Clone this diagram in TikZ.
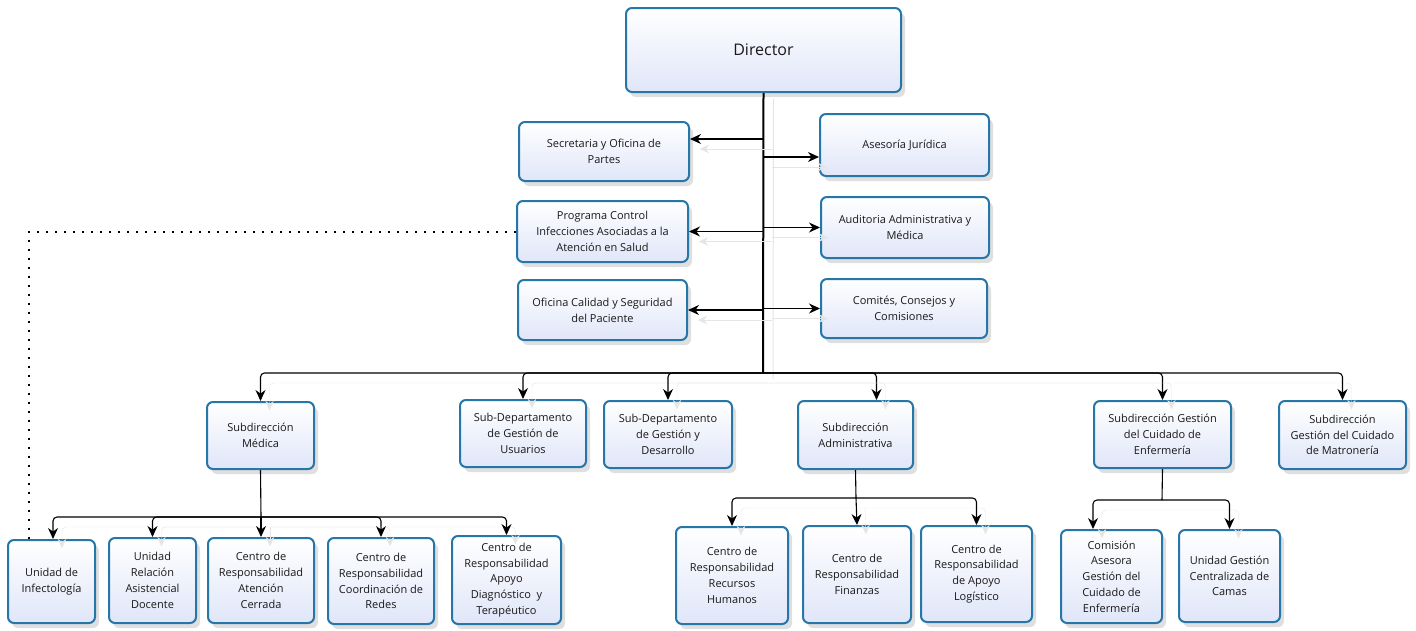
\documentclass[tikz,border=0pt]{standalone}
\usepackage{fontspec}
\setmainfont{Open Sans}
\usepackage{tikz}
\usetikzlibrary{arrows.meta, shadows, positioning, calc}
\definecolor{boxblue}{RGB}{38,118,168}
\definecolor{boxfill}{RGB}{224,230,249}

\tikzset{
	orgbox/.style={draw=boxblue, line width=2pt, rounded corners=6pt, top color=white, bottom color=boxfill,
		align=center, text=black!90, inner sep=2pt, font=\fontsize{11}{15.8}\selectfont,
		drop shadow={opacity=.25, shadow xshift=4pt, shadow yshift=-5pt}},
	conn/.style={line width=1.1pt, rounded corners=4pt, -{Stealth[length=11pt,width=10pt]},
		preaction={draw=black!10, transform canvas={shift={(9pt,-10pt)}}}},
	trunk/.style={line width=2pt, preaction={draw=black!10, line width=1pt, transform canvas={shift={(10pt,-6pt)}}}},
	dots/.style={line width=2pt, dash pattern=on 2pt off 7pt}
}

\begin{document}
\begin{tikzpicture}[x=1pt, y=-1pt]
		\useasboundingbox (0,0) rectangle (1416,630);

		% direccion
		\node[orgbox, minimum width=275pt, minimum height=84pt, font=\fontsize{16}{19}\selectfont] (dir) at (763.5,50) {Director};

		\node[orgbox, minimum width=170pt, minimum height=59pt] (secr) at (604,151.5) {Secretaria y Oficina de\\Partes};
		\node[orgbox, minimum width=169pt, minimum height=62pt] (ases) at (904.5,145) {Asesoría Jurídica};
		\node[orgbox, minimum width=171pt, minimum height=61pt] (prog) at (602.5,231.5) {Programa Control\\Infecciones Asociadas a la\\Atención en Salud};
		\node[orgbox, minimum width=168pt, minimum height=61pt] (audi) at (905,227.5) {Auditoria Administrativa y\\Médica};
		\node[orgbox, minimum width=169pt, minimum height=60pt] (ofic) at (602.5,310) {Oficina Calidad y Seguridad\\del Paciente};
		\node[orgbox, minimum width=166pt, minimum height=59pt] (comi) at (904,308.5) {Comités, Consejos y\\Comisiones};

		% subdirecciones
		\node[orgbox, minimum width=107pt, minimum height=67pt] (med) at (260.5,435.5) {Subdirección\\Médica};
		\node[orgbox, minimum width=126pt, minimum height=67pt] (usu) at (523,433.5) {Sub-Departamento\\de Gestión de\\Usuarios};
		\node[orgbox, minimum width=128pt, minimum height=67pt] (desa) at (668,434.5) {Sub-Departamento\\de Gestión y\\Desarrollo};
		\node[orgbox, minimum width=115pt, minimum height=68pt] (adm) at (855.5,435) {Subdirección\\Administrativa};
		\node[orgbox, minimum width=137pt, minimum height=67pt] (enf) at (1162.5,434.5) {Subdirección Gestión\\del Cuidado de\\Enfermería};
		\node[orgbox, minimum width=127pt, minimum height=68pt] (mat) at (1342.5,435) {Subdirección\\Gestión del Cuidado\\de Matronería};

		% unidades
		\node[orgbox, minimum width=87pt, minimum height=83pt] (inf) at (51.5,581.5) {Unidad de\\Infectología};
		\node[orgbox, minimum width=87pt, minimum height=85pt] (rel) at (152.5,580.5) {Unidad\\Relación\\Asistencial\\Docente};
		\node[orgbox, minimum width=106pt, minimum height=85pt] (cerr) at (261,580.5) {Centro de\\Responsabilidad\\Atención\\Cerrada};
		\node[orgbox, minimum width=106pt, minimum height=86pt] (coor) at (381,581) {Centro de\\Responsabilidad\\Coordinación de\\Redes};
		\node[orgbox, minimum width=109pt, minimum height=88pt] (diag) at (506.5,580) {Centro de\\Responsabilidad\\Apoyo\\Diagnóstico~ y\\Terapéutico};
		\node[orgbox, minimum width=112pt, minimum height=97pt] (rrhh) at (732,575.5) {Centro de\\Responsabilidad\\Recursos\\Humanos};
		\node[orgbox, minimum width=108pt, minimum height=97pt] (fin) at (857,574.5) {Centro de\\Responsabilidad\\Finanzas};
		\node[orgbox, minimum width=111pt, minimum height=96pt] (logi) at (976.5,574) {Centro de\\Responsabilidad\\de Apoyo\\Logístico};
		\node[orgbox, minimum width=101pt, minimum height=93pt] (comis) at (1111.5,576.5) {Comisión\\Asesora\\Gestión del\\Cuidado de\\Enfermería};
		\node[orgbox, minimum width=101pt, minimum height=92pt] (camas) at (1229.5,576) {Unidad Gestión\\Centralizada de\\Camas};

		\coordinate (hub) at (763,373);
		\coordinate (medhub) at (261,517);
		\coordinate (admhub) at (856,498);
		\coordinate (enfhub) at (1162,500);
		\coordinate (secrin) at ([yshift=12.5pt]secr.east);
		\coordinate (asesin) at ([yshift=-12pt]ases.west);

		\draw[trunk] (dir.south) -- (hub);

		\draw[conn] (hub |- secrin) -- (secrin);
		\draw[conn] (hub |- asesin) -- (asesin);
		\draw[conn] (hub |- prog.east) -- (prog.east);
		\draw[conn] (hub |- audi.west) -- (audi.west);
		\draw[conn] (hub |- ofic.east) -- (ofic.east);
		\draw[conn] (hub |- comi.west) -- (comi.west);

		\draw[conn] (hub) -| (med.north);
		\draw[conn] (hub) -| (usu.north);
		\draw[conn] (hub) -| (desa.north);
		\draw[conn] (hub) -| ([xshift=21pt]adm.north);
		\draw[conn] (hub) -| (enf.north);
		\draw[conn] (hub) -| (mat.north);

		\draw[line width=1.1pt] (med.south) -- (medhub);
		\draw[conn] (medhub) -| ([xshift=1.5pt]inf.north);
		\draw[conn] (medhub) -| (rel.north);
		\draw[conn] (medhub) -- (cerr.north);
		\draw[conn] (medhub) -| (coor.north);
		\draw[conn] (medhub) -| (diag.north);

		\draw[line width=1.1pt] (adm.south) -- (admhub);
		\draw[conn] (admhub) -| (rrhh.north);
		\draw[conn] (admhub) -- (fin.north);
		\draw[conn] (admhub) -| (logi.north);

		\draw[line width=1.1pt] (enf.south) -- (enfhub);
		\draw[conn] (enfhub) -| ([xshift=-18.5pt]comis.north);
		\draw[conn] (enfhub) -| (camas.north);

		\draw[dots] (prog.west) -| ([xshift=-22.5pt]inf.north);

\end{tikzpicture}
\end{document}
